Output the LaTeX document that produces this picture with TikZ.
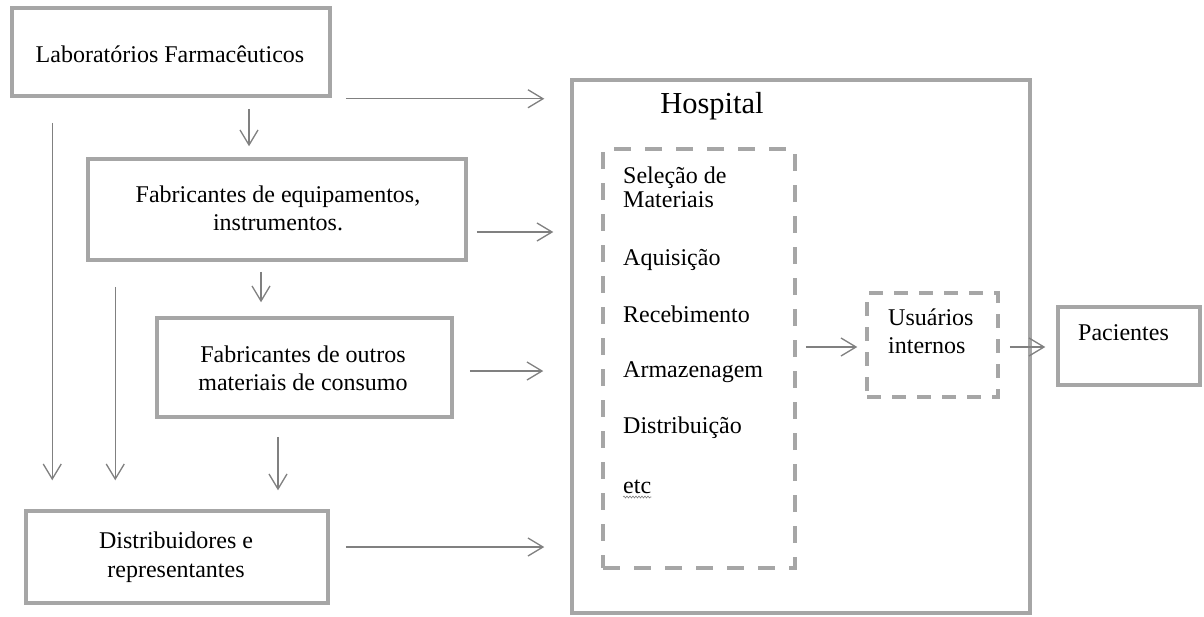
\documentclass[tikz,border=0pt]{standalone}
\usepackage{fontspec}
\setmainfont{Liberation Serif}
\usetikzlibrary{arrows.meta,calc,decorations.pathmorphing}
\definecolor{boxgray}{HTML}{A6A6A6}
\definecolor{arrgray}{HTML}{808080}
\begin{document}
\begin{tikzpicture}[x=1pt,y=-1pt,
  box/.style={draw=boxgray, line width=3.5pt, inner sep=0pt, fill=none},
  dbox/.style={box, dash pattern=on 17pt off 14pt},
  dboxs/.style={box, dash pattern=on 14pt off 11pt},
  arr/.style={draw=arrgray, line width=1.3pt,
    -{Straight Barb[length=15pt,width=18pt,line width=1.3pt]}},
  txt/.style={font=\fontsize{24}{28}\selectfont, inner sep=0pt, anchor=base},
  ltxt/.style={txt, anchor=base west},
  squiggle/.style={draw=gray, line width=0.6pt, decorate,
    decoration={snake, amplitude=1pt, segment length=3pt}}]

\useasboundingbox (0,0) rectangle (1204,616);

% boxes
\node[box, minimum width=318pt, minimum height=88pt]  (lab)  at (171,52) {};
\node[box, minimum width=378pt, minimum height=101pt] (fab1) at (277,209.5) {};
\node[box, minimum width=295pt, minimum height=99pt]  (fab2) at (304.5,367.5) {};
\node[box, minimum width=302pt, minimum height=92pt]  (dist) at (177,557) {};
\node[box, minimum width=458pt, minimum height=533pt] (hosp) at (801,346.5) {};
\node[dbox, minimum width=192pt, minimum height=419pt] (list) at (699,358.5) {};
\node[dboxs, minimum width=131pt, minimum height=104pt] (usu) at (932.5,345) {};
\node[box, minimum width=142pt, minimum height=78pt]  (pac)  at (1129,346) {};

% texts
\node[txt] (labt) at (170,62) {Laboratórios Farmacêuticos};
\node[txt] (fab1a) at (278,202) {Fabricantes de equipamentos,};
\node[txt] (fab1b) at (278,230) {instrumentos.};
\node[txt] (fab2a) at (303,362) {Fabricantes de outros};
\node[txt] (fab2b) at (303,390) {materiais de consumo};
\node[txt] (dista) at (176,548) {Distribuidores e};
\node[txt] (distb) at (176,577) {representantes};
\node[txt, font=\fontsize{30.5}{36}\selectfont] (hospt) at (712,113) {Hospital};
\node[ltxt] (sel1) at (623,183) {Seleção de};
\node[ltxt] (sel2) at (623,207) {Materiais};
\node[ltxt] (aqu) at (623,265) {Aquisição};
\node[ltxt] (rec) at (623,322) {Recebimento};
\node[ltxt] (arm) at (623,377) {Armazenagem};
\node[ltxt] (dis) at (623,433) {Distribuição};
\node[ltxt] (etc) at (623,493) {etc};
\node[ltxt] (usua) at (888,325) {Usuários};
\node[ltxt] (usub) at (888,353) {internos};
\node[ltxt] (pact) at (1078,340) {Pacientes};

\draw[squiggle] ($(etc.base west)+(0,4)$) -- ($(etc.base east)+(0,4)$);

% connectors
\draw[arr, shorten >=26pt] ($(lab.south east)+(14,1)$) coordinate (t1) -- (t1 -| hosp.west);
\draw[arr, shorten >=11pt] ($(lab.south)+(78,11)$) coordinate (t2) -- (t2 |- fab1.north);
\draw[arr, shorten >=29pt] ($(lab.south west)+(42,25)$) coordinate (t3) -- (t3 |- dist.north);
\draw[arr, shorten >=29pt] ($(fab1.south west)+(29,25)$) coordinate (t4) -- (t4 |- dist.north);
\draw[arr, shorten >=14pt] ($(fab1.south)+(-16,10)$) coordinate (t5) -- (t5 |- fab2.north);
\draw[arr, shorten >=17pt] ($(fab1.east)+(9,22.5)$) coordinate (t6) -- (t6 -| hosp.west);
\draw[arr, shorten >=27pt] ($(fab2.east)+(16,3.5)$) coordinate (t7) -- (t7 -| hosp.west);
\draw[arr, shorten >=19pt] ($(fab2.south)+(-26.5,18)$) coordinate (t8) -- (t8 |- dist.north);
\draw[arr, shorten >=26pt] ($(dist.east)+(16,-10)$) coordinate (t9) -- (t9 -| hosp.west);
\draw[arr, shorten >=8pt] ($(list.east)+(9,-11.5)$) coordinate (t10) -- (t10 -| usu.west);
\draw[arr, shorten >=11pt] ($(usu.east)+(10,2)$) coordinate (t11) -- (t11 -| pac.west);
\end{tikzpicture}
\end{document}
